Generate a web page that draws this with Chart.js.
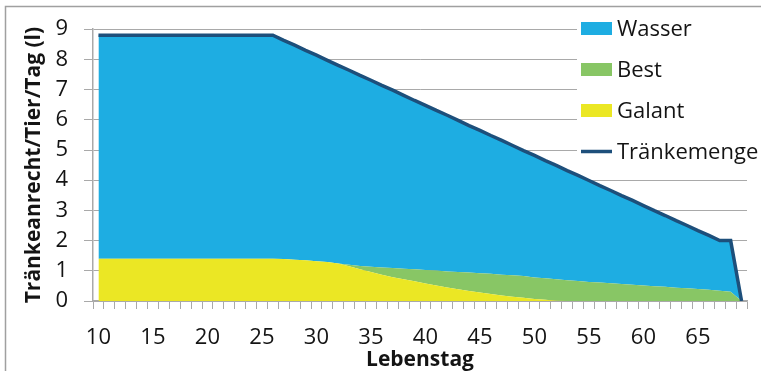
<!DOCTYPE html>
<html>
<head>
<meta charset="utf-8">
<script src="https://cdn.jsdelivr.net/npm/chart.js@4/dist/chart.umd.min.js"></script>
<style>
  html, body { margin: 0; padding: 0; background: #fff; }
  #wrap { width: 761px; height: 371px; position: relative; }
</style>
</head>
<body>
<div id="wrap"><canvas id="drinkChart" width="761" height="371"></canvas></div>
<script>
// Lebenstag 10..69
const days = [10, 11, 12, 13, 14, 15, 16, 17, 18, 19, 20, 21, 22, 23, 24, 25, 26, 27, 28, 29,
  30, 31, 32, 33, 34, 35, 36, 37, 38, 39, 40, 41, 42, 43, 44, 45, 46, 47, 48, 49,
  50, 51, 52, 53, 54, 55, 56, 57, 58, 59, 60, 61, 62, 63, 64, 65, 66, 67, 68, 69];

const galant = [1.4, 1.4, 1.4, 1.4, 1.4, 1.4, 1.4, 1.4, 1.4, 1.4, 1.4, 1.4, 1.4, 1.4, 1.4, 1.4, 1.4, 1.39, 1.37, 1.35,
  1.32, 1.29, 1.24, 1.15, 1.05, 0.96, 0.87, 0.79, 0.72, 0.65, 0.58, 0.51, 0.45, 0.39, 0.33, 0.28, 0.23, 0.18, 0.14, 0.11,
  0.07, 0.04, 0.01, 0, 0, 0, 0, 0, 0, 0, 0, 0, 0, 0, 0, 0, 0, 0, 0, 0];

const best = [0, 0, 0, 0, 0, 0, 0, 0, 0, 0, 0, 0, 0, 0, 0, 0, 0, 0, 0, 0,
  0, 0, 0, 0.05, 0.11, 0.17, 0.24, 0.30, 0.35, 0.40, 0.45, 0.50, 0.53, 0.57, 0.61, 0.64, 0.67, 0.69, 0.71, 0.72,
  0.71, 0.71, 0.71, 0.69, 0.66, 0.63, 0.61, 0.59, 0.56, 0.54, 0.51, 0.49, 0.47, 0.44, 0.42, 0.40, 0.37, 0.34, 0.31, 0];

const wasser = [7.4, 7.4, 7.4, 7.4, 7.4, 7.4, 7.4, 7.4, 7.4, 7.4, 7.4, 7.4, 7.4, 7.4, 7.4, 7.4, 7.4, 7.24, 7.10, 6.95,
  6.82, 6.68, 6.56, 6.44, 6.31, 6.18, 6.03, 5.89, 5.74, 5.59, 5.45, 5.30, 5.17, 5.02, 4.87, 4.73, 4.58, 4.45, 4.30, 4.15,
  4.04, 3.90, 3.77, 3.63, 3.50, 3.36, 3.21, 3.07, 2.93, 2.79, 2.65, 2.50, 2.36, 2.22, 2.08, 1.93, 1.80, 1.66, 1.69, 0];

const traenkemenge = [8.8, 8.8, 8.8, 8.8, 8.8, 8.8, 8.8, 8.8, 8.8, 8.8, 8.8, 8.8, 8.8, 8.8, 8.8, 8.8, 8.8, 8.63, 8.47, 8.30,
  8.14, 7.97, 7.80, 7.64, 7.47, 7.31, 7.14, 6.98, 6.81, 6.64, 6.48, 6.31, 6.15, 5.98, 5.81, 5.65, 5.48, 5.32, 5.15, 4.98,
  4.82, 4.65, 4.49, 4.32, 4.16, 3.99, 3.82, 3.66, 3.49, 3.33, 3.16, 2.99, 2.83, 2.66, 2.50, 2.33, 2.17, 2.00, 2.00, 0];

const yTicks = [0, 1, 2, 3, 4, 5, 6, 7, 8, 9];

const colWasser = "#1eade2";
const colBest = "#88c665";
const colGalant = "#ebe724";
const colLine = "#1d4f7b";
const gridCol = "#a9a9a9";
const textCol = "#141414";

const legendItems = [
  { label: "Wasser", color: colWasser, type: "box" },
  { label: "Best", color: colBest, type: "box" },
  { label: "Galant", color: colGalant, type: "box" },
  { label: "Tränkemenge", color: colLine, type: "line" },
];

// frame lines (top / left) like the original figure
const framePlugin = {
  id: "frame",
  beforeDraw(chart) {
    const ctx = chart.ctx;
    ctx.save();
    ctx.strokeStyle = "#a0a0a0";
    ctx.lineWidth = 1.5;
    ctx.beginPath();
    ctx.moveTo(5.5, 371);
    ctx.lineTo(5.5, 6.5);
    ctx.lineTo(761, 6.5);
    ctx.stroke();
    ctx.restore();
  },
};

// legend drawn over the plot area, with white background
const legendPlugin = {
  id: "overlayLegend",
  afterDraw(chart) {
    const ctx = chart.ctx;
    ctx.save();
    ctx.fillStyle = "#fff";
    ctx.fillRect(577, 10, 184, 158);
    ctx.font = "22px 'Open Sans'";
    ctx.textBaseline = "alphabetic";
    ctx.textAlign = "left";
    legendItems.forEach((item, i) => {
      const y = 22 + i * 41;
      if (item.type === "box") {
        ctx.fillStyle = item.color;
        ctx.fillRect(581, y, 31, 13);
      } else {
        ctx.strokeStyle = item.color;
        ctx.lineWidth = 3.5;
        ctx.beginPath();
        ctx.moveTo(581, y + 6.5);
        ctx.lineTo(612, y + 6.5);
        ctx.stroke();
      }
      ctx.fillStyle = textCol;
      ctx.fillText(item.label, 617, y + 14);
    });
    ctx.restore();
  },
};

const ctx = document.getElementById("drinkChart").getContext("2d");
new Chart(ctx, {
  type: "line",
  data: {
    labels: days,
    datasets: [
      {
        label: "Tränkemenge",
        data: traenkemenge,
        stack: "total",
        borderColor: colLine,
        borderWidth: 3.5,
        fill: false,
        pointRadius: 0,
        tension: 0,
      },
      {
        label: "Galant",
        data: galant,
        stack: "mix",
        borderWidth: 0,
        borderColor: colGalant,
        backgroundColor: colGalant,
        fill: "origin",
        pointRadius: 0,
        tension: 0,
      },
      {
        label: "Best",
        data: best,
        stack: "mix",
        borderWidth: 0,
        borderColor: colBest,
        backgroundColor: colBest,
        fill: "-1",
        pointRadius: 0,
        tension: 0,
      },
      {
        label: "Wasser",
        data: wasser,
        stack: "mix",
        borderWidth: 0,
        borderColor: colWasser,
        backgroundColor: colWasser,
        fill: "-1",
        pointRadius: 0,
        tension: 0,
      },
    ],
  },
  options: {
    responsive: false,
    animation: false,
    layout: { padding: { left: 0, right: 14, top: 25, bottom: 0 } },
    plugins: {
      legend: { display: false },
      tooltip: { enabled: false },
    },
    scales: {
      x: {
        offset: true,
        afterFit: (scale) => { scale.height = 70; },
        grid: {
          offset: true,
          drawOnChartArea: false,
          drawTicks: true,
          tickLength: 8,
          color: gridCol,
        },
        border: { color: gridCol, width: 1.5 },
        ticks: {
          autoSkip: false,
          maxRotation: 0,
          padding: 16,
          color: textCol,
          font: { family: "'Open Sans'", size: 22 },
          callback: function (value, index) {
            const d = days[index];
            return d % 5 === 0 ? String(d) : "";
          },
        },
        title: {
          display: true,
          text: "Lebenstag",
          color: textCol,
          font: { family: "'Open Sans'", size: 21, weight: "bold" },
          padding: { top: 0, bottom: -2 },
        },
      },
      y: {
        stacked: true,
        min: 0,
        max: 9,
        afterFit: (scale) => { scale.width = 93; },
        afterBuildTicks: (scale) => { scale.ticks = yTicks.map((v) => ({ value: v })); },
        grid: {
          color: gridCol,
          lineWidth: 1,
          tickLength: 9,
        },
        border: { color: gridCol, width: 1.5 },
        ticks: {
          padding: 16,
          color: textCol,
          font: { family: "'Open Sans'", size: 22 },
        },
        title: {
          display: true,
          text: "Tränkeanrecht/Tier/Tag (l)",
          color: textCol,
          font: { family: "'Open Sans'", size: 21, weight: "bold" },
          padding: { top: 21, bottom: 0 },
        },
      },
    },
  },
  plugins: [framePlugin, legendPlugin],
});
</script>
</body>
</html>
